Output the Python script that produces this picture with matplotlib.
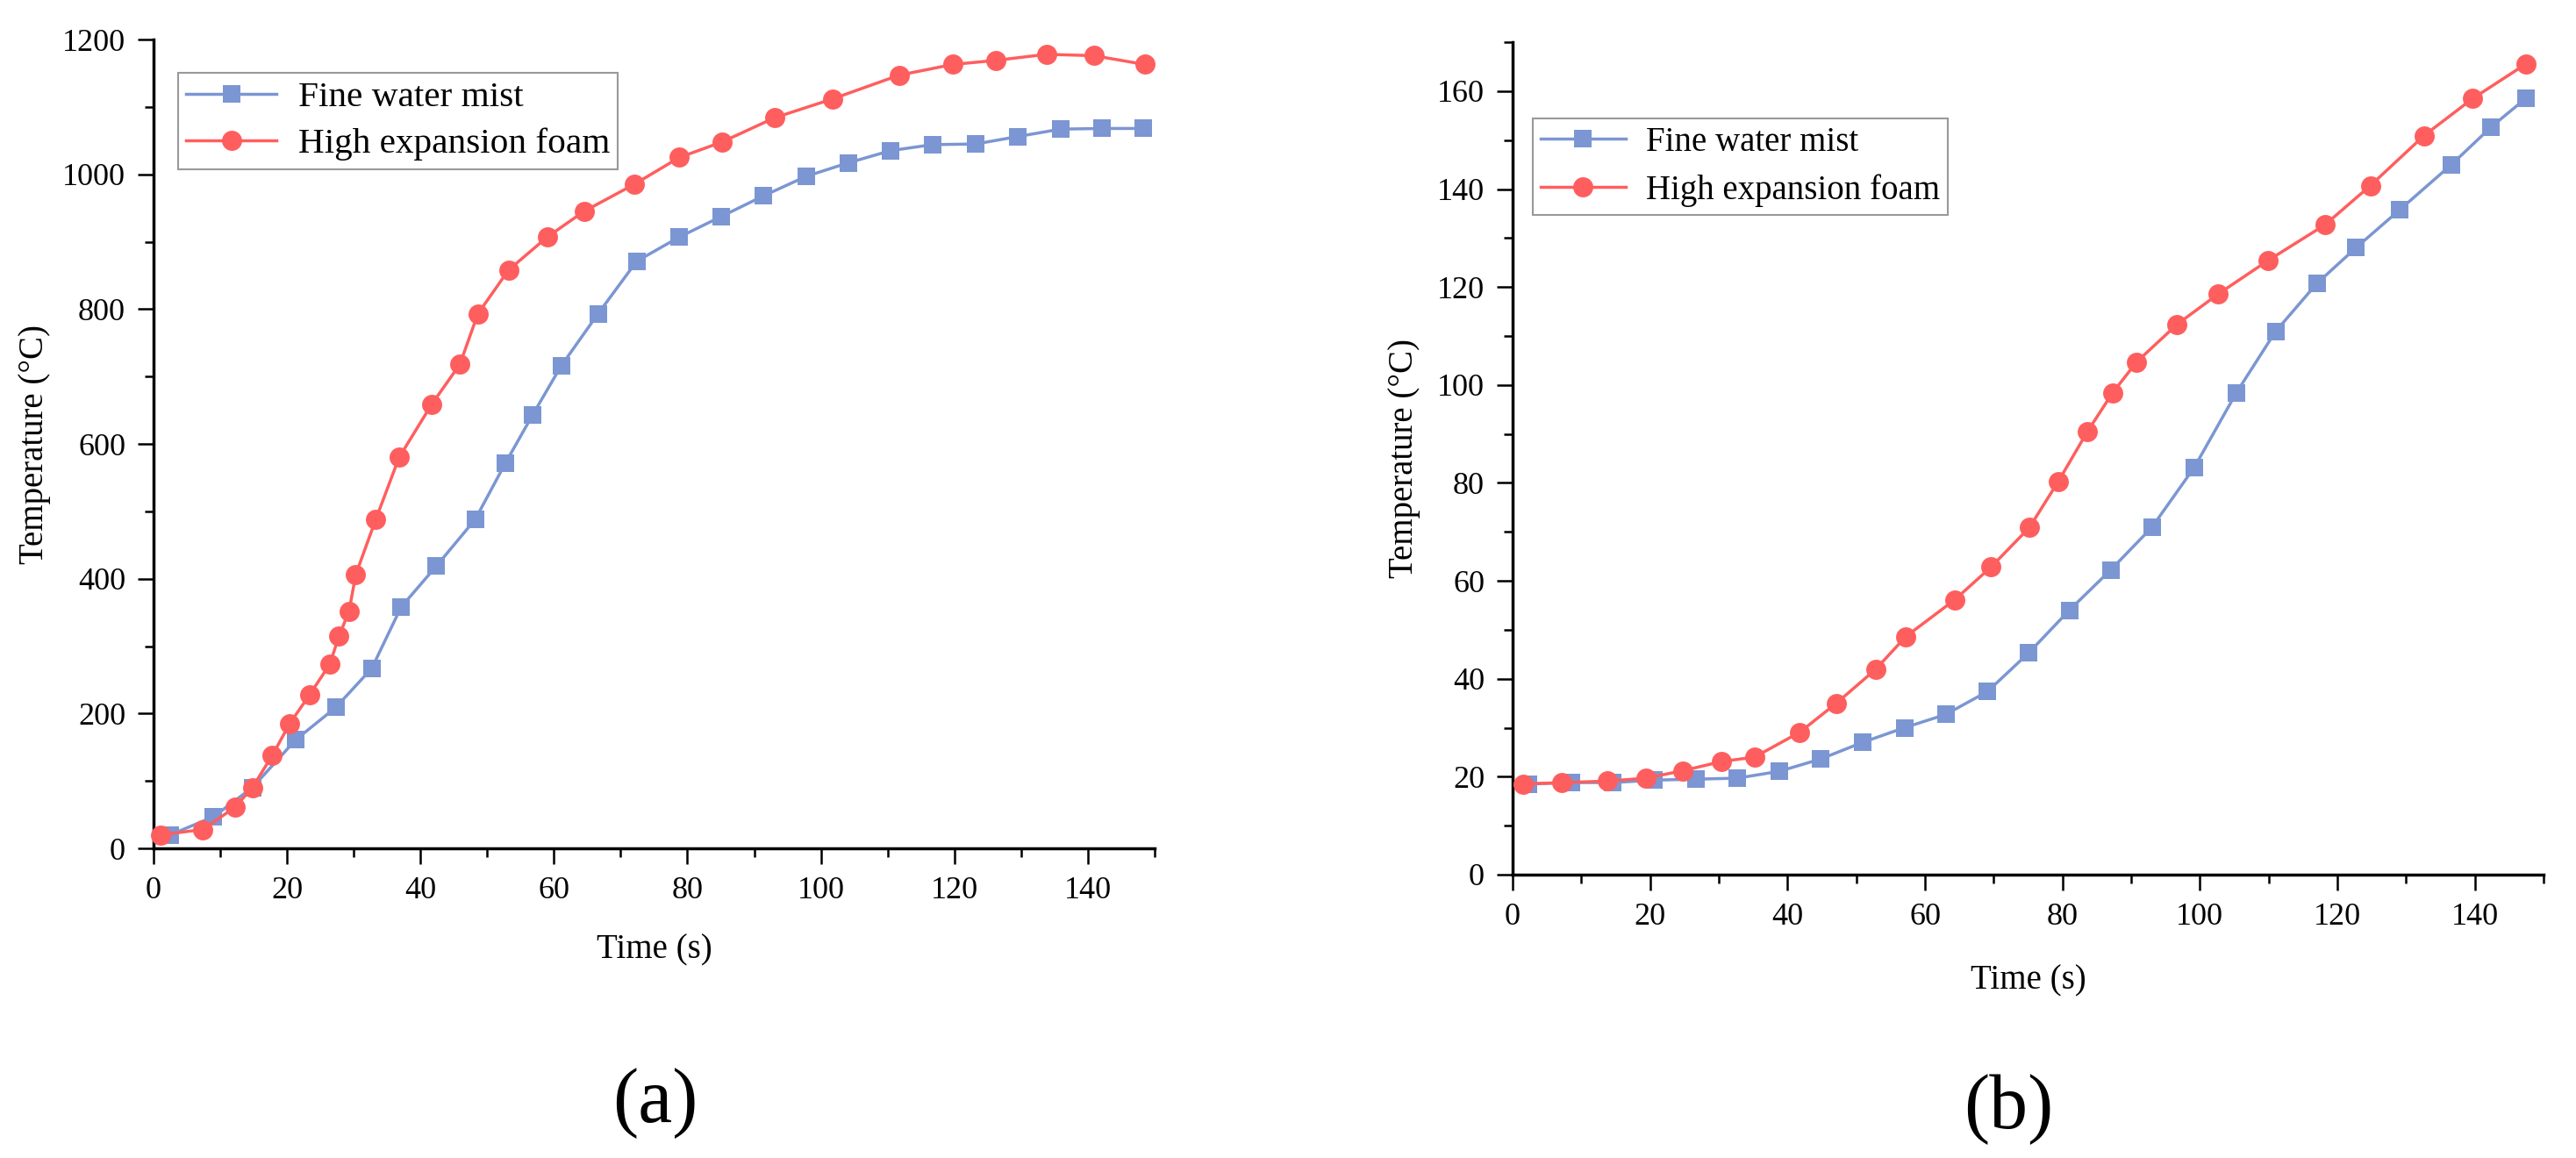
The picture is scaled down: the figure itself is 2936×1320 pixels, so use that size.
import matplotlib
matplotlib.use("Agg")
import matplotlib.pyplot as plt
from matplotlib.ticker import MultipleLocator

plt.rcParams['font.family'] = ['Liberation Serif', 'DejaVu Serif']

# ---- data: panel (a)
mist_a_t = [2.5, 9.0, 14.8, 21.3, 27.3, 32.7, 37.1, 42.4, 48.2, 52.7, 56.8, 61.1, 66.6, 72.4,
            78.8, 85.0, 91.4, 97.8, 104.1, 110.4, 116.7, 123.2, 129.5, 135.9, 142.1, 148.3]
mist_a_T = [20, 47, 90, 161, 209, 267, 358, 419, 488, 571, 643, 716, 793, 871,
            907, 937, 968, 997, 1017, 1035, 1044, 1045, 1056, 1067, 1068, 1068]
foam_a_t = [1.0, 7.4, 12.2, 14.8, 17.8, 20.4, 23.4, 26.4, 27.8, 29.3, 30.3, 33.3, 36.8, 41.7,
            45.9, 48.6, 53.2, 59.0, 64.5, 72.0, 78.8, 85.2, 93.1, 101.8, 111.7, 119.8, 126.2,
            133.8, 140.9, 148.5]
foam_a_T = [20, 28, 61, 90, 138, 185, 228, 273, 315, 352, 406, 488, 580, 659,
            718, 793, 858, 907, 945, 985, 1025, 1048, 1084, 1112, 1147, 1163, 1169,
            1178, 1176, 1163]

# ---- data: panel (b)
mist_b_t = [2.3, 8.5, 14.6, 20.6, 26.7, 32.7, 38.8, 44.8, 50.9, 57.0, 63.0, 69.1, 75.1,
            81.0, 87.0, 93.0, 99.2, 105.3, 111.0, 117.0, 122.7, 129.1, 136.6, 142.4, 147.4]
mist_b_T = [18.5, 18.8, 18.8, 19.3, 19.5, 19.7, 21.1, 23.6, 27.0, 30.0, 32.7, 37.4, 45.3,
            54.0, 62.2, 70.9, 83.2, 98.4, 110.9, 120.7, 128.0, 135.8, 145.0, 152.7, 158.5]
foam_b_t = [1.5, 7.1, 13.8, 19.4, 24.7, 30.4, 35.2, 41.8, 47.1, 52.8, 57.2, 64.3, 69.6,
            75.2, 79.4, 83.6, 87.3, 90.8, 96.7, 102.7, 109.9, 118.2, 124.8, 132.6, 139.7, 147.5]
foam_b_T = [18.5, 18.8, 19.1, 19.7, 21.2, 23.1, 24.0, 29.1, 35.0, 41.9, 48.6, 56.1, 62.8,
            70.9, 80.3, 90.4, 98.4, 104.7, 112.4, 118.6, 125.4, 132.7, 140.7, 150.9, 158.5, 165.6]

labels = ["Fine water mist", "High expansion foam"]
xlabel = "Time (s)"
ylabel = "Temperature (°C)"

BLUE = '#7B96D2'
RED = '#FF5E5E'

fig = plt.figure(figsize=(29.36, 13.2), dpi=100)
ax_a = fig.add_axes([0.0596, 0.2674, 0.3886, 0.6985])
ax_b = fig.add_axes([0.5872, 0.2447, 0.4002, 0.7189])


def style(ax, ymax, ymaj, ymin_, leg_anchor, xlab_y, ylab_x, legfs, legsp):
    ax.set_xlim(0, 150)
    ax.set_ylim(0, ymax)
    ax.xaxis.set_major_locator(MultipleLocator(20))
    ax.xaxis.set_minor_locator(MultipleLocator(10))
    ax.yaxis.set_major_locator(MultipleLocator(ymaj))
    ax.yaxis.set_minor_locator(MultipleLocator(ymin_))
    for s in ['top', 'right']:
        ax.spines[s].set_visible(False)
    for s in ['left', 'bottom']:
        ax.spines[s].set_linewidth(2.5)
    ax.tick_params(which='major', direction='out', length=13, width=1.8,
                   labelsize=26, pad=10)
    ax.tick_params(which='minor', direction='out', length=7, width=1.8)
    ax.set_xlabel(xlabel, fontsize=28)
    ax.set_ylabel(ylabel, fontsize=28)
    ax.xaxis.set_label_coords(0.5, xlab_y)
    ax.xaxis.label.set_va('center')
    ax.yaxis.set_label_coords(ylab_x, 0.5)
    ax.yaxis.label.set_va('center')
    leg = ax.legend(loc='upper left', bbox_to_anchor=leg_anchor, borderaxespad=0,
                    fontsize=legfs, frameon=True, fancybox=False, edgecolor='#808080',
                    handlelength=2.5, handletextpad=0.6, borderpad=0.22,
                    labelspacing=legsp)
    leg.get_frame().set_linewidth(1.5)


for ax, mt, mT, ft, fT in [(ax_a, mist_a_t, mist_a_T, foam_a_t, foam_a_T),
                           (ax_b, mist_b_t, mist_b_T, foam_b_t, foam_b_T)]:
    ax.plot(mt, mT, color=BLUE, lw=2.5, marker='s', ms=14.5, mew=0, label=labels[0],
            clip_on=False, zorder=3)
    ax.plot(ft, fT, color=RED, lw=2.5, marker='o', ms=16.5, mew=0, label=labels[1],
            clip_on=False, zorder=4)

style(ax_a, 1200, 200, 100, (0.0245, 0.9588), -0.126, -0.119, 29.7, 0.38)
style(ax_b, 170, 20, 10, (0.0196, 0.908), -0.1275, -0.1055, 28, 0.45)

fig.text(747 / 2936, 1 - 1258 / 1320, "(a)", fontsize=63, ha='center', va='center')
fig.text(2289 / 2936, 1 - 1265 / 1320, "(b)", fontsize=63, ha='center', va='center')

fig.savefig("out.png", dpi=100)
